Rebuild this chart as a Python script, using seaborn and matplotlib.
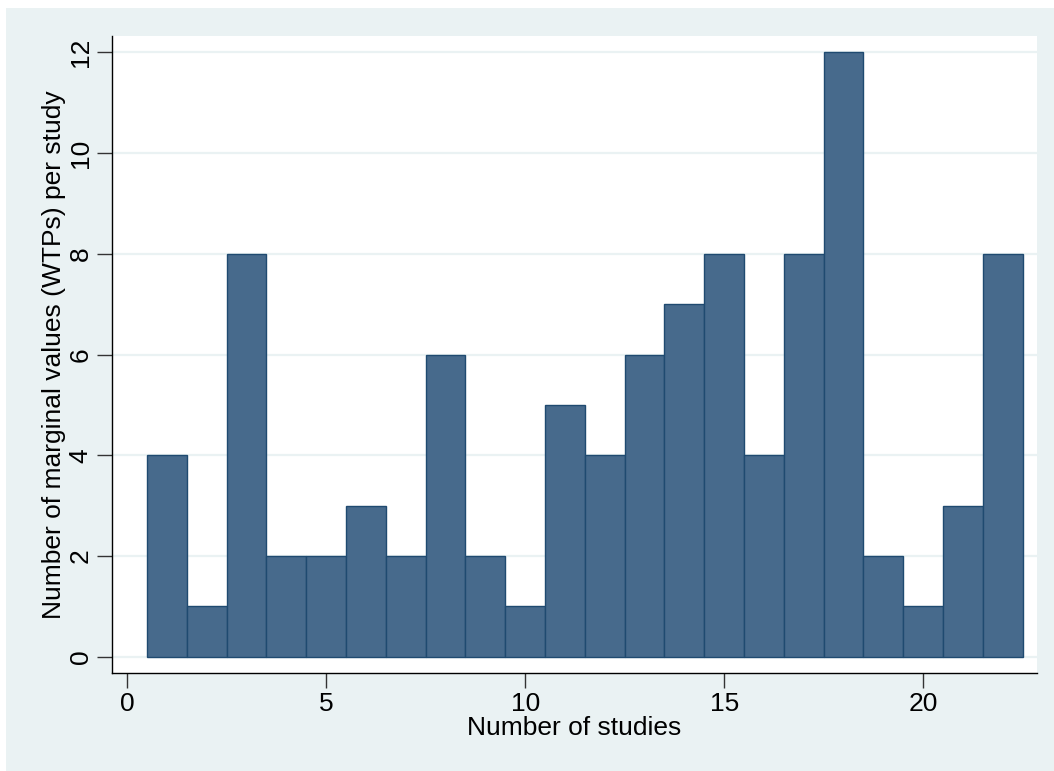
import matplotlib
matplotlib.use("Agg")
import matplotlib.pyplot as plt
from matplotlib.patches import Rectangle
import seaborn as sns
import pandas as pd

studies = list(range(1, 23))
wtp_counts = [4, 1, 8, 2, 2, 3, 2, 6, 2, 1, 5, 4, 6, 7, 8, 4, 8, 12, 2, 1, 3, 8]
x_ticks = [0, 5, 10, 15, 20]
y_ticks = [0, 2, 4, 6, 8, 10, 12]

sns.set_style("white")
plt.rcParams['font.family'] = ['Liberation Sans', 'DejaVu Sans']

df = pd.DataFrame({"study": studies, "count": wtp_counts})

fig = plt.figure(figsize=(10.54, 7.71), dpi=100)
fig.patch.set_facecolor("white")
fig.patches.append(Rectangle((6/1054, 0), 1 - 6/1054, 1 - 8/771, transform=fig.transFigure,
                             facecolor="#EAF2F3", edgecolor="none", zorder=-10))
ax = fig.add_axes([112/1054, 1-673/771, (1037-112)/1054, (673-36)/771])
ax.set_facecolor("white")

sns.histplot(data=df, x="study", weights="count", discrete=True, ax=ax,
             color="#476A8C", edgecolor="#1F4A70", linewidth=1.0, alpha=1.0, zorder=3)

ax.set_xlim(-0.38, 22.86)
ax.set_ylim(-0.32, 12.32)
ax.set_xticks(x_ticks)
ax.set_yticks(y_ticks)
ax.yaxis.grid(True, color="#EAF2F3", linewidth=1.6, zorder=0)
ax.set_axisbelow(True)
for s in ["top", "right"]:
    ax.spines[s].set_visible(False)
for s in ["left", "bottom"]:
    ax.spines[s].set_color("black")
    ax.spines[s].set_linewidth(1.0)
ax.tick_params(axis="both", direction="out", length=11, width=1.0, color="#333333",
               labelsize=19, labelcolor="black", pad=3, left=True, bottom=True)
plt.setp(ax.get_yticklabels(), rotation=90, va="center")
ax.set_xlabel("Number of studies", fontsize=19, color="black", labelpad=0)
ax.set_ylabel("Number of marginal values (WTPs) per study", fontsize=19, color="black", labelpad=2)

fig.savefig("out.png", dpi=100, facecolor=fig.get_facecolor())
